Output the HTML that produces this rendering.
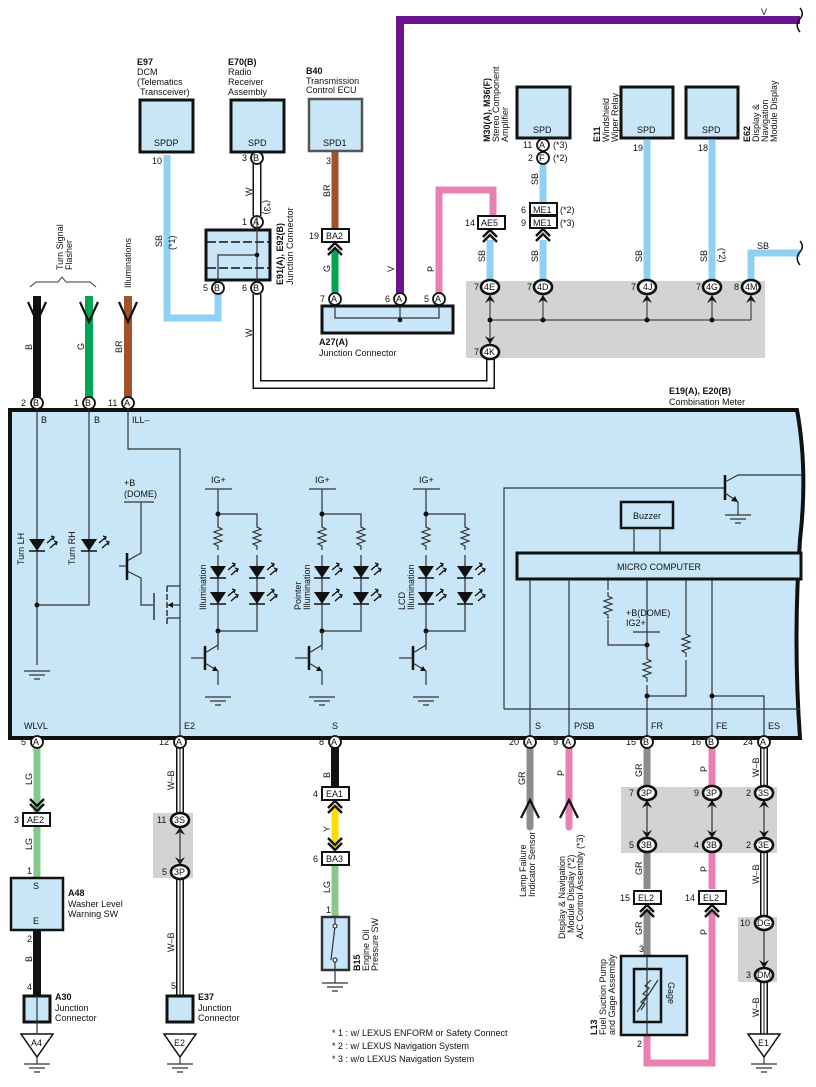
<!DOCTYPE html>
<html><head><meta charset="utf-8"><style>
html,body{margin:0;padding:0;background:#fff}
svg{display:block}
text{font-family:"Liberation Sans",Arial,sans-serif;font-size:9px;fill:#111}
.b{font-weight:bold}
.pin{fill:#fff;stroke:#111;stroke-width:1.8}
.ov{fill:#fff;stroke:#111;stroke-width:2.6}
.cb{fill:#fff;stroke:#111;stroke-width:2}
.ln{stroke:#333;stroke-width:1.2;fill:none}
.ch{stroke:#111;stroke-width:2.4;fill:none}
</style></head><body>
<svg width="816" height="1087" viewBox="0 0 816 1087" xmlns="http://www.w3.org/2000/svg">
<defs>
<g id="res"><path d="M0 0 l0 4 l4 2 l-8 3 l8 3 l-8 3 l8 3 l-8 3 l4 2 l0 4" class="ln"/></g>
<g id="led"><polygon points="-8,-6 8,-6 0,6" fill="#111"/><line x1="-8" y1="6" x2="8" y2="6" stroke="#111" stroke-width="1.5"/><path d="M10,-2 l7,-6 M13,3 l7,-6" stroke="#111" stroke-width="1.3"/><path d="M14,-9 l3,1 l-1,3 M17,-4 l3,1 l-1,3" stroke="#111" stroke-width="1.3" fill="none"/></g>
<g id="gnd"><path d="M-13 0 h26 M-8 4 h16 M-3 8 h6" stroke="#333" stroke-width="1.3"/></g>
<g id="npn"><line x1="0" y1="-12" x2="0" y2="12" stroke="#111" stroke-width="2.5"/><line x1="-14" y1="0" x2="0" y2="0" class="ln"/><path d="M0 -5 L13 -13 V-27 M0 5 L13 13 V27" class="ln"/><polygon points="13,13 7,13 10,8" fill="#111"/></g>
<g id="dch"><path d="M-7 8 L0 1 L7 8 M-7 13 L0 6 L7 13" class="ch"/></g>
<g id="uch"><path d="M-7 -8 L0 -1 L7 -8 M-7 -13 L0 -6 L7 -13" class="ch"/></g>
</defs>

<rect x="466" y="281" width="299" height="77" fill="#d3d3d3"/>
<rect x="153" y="813" width="40" height="65" fill="#d3d3d3"/>
<rect x="621" y="787" width="156" height="66" fill="#d3d3d3"/>
<rect x="738" y="917" width="39" height="65" fill="#d3d3d3"/>

<path d="M10 410 H797 Q808 470 800 540 Q793 640 800 738 H10 Z" fill="#c8e6f8" stroke="#111" stroke-width="4"/>

<path d="M400 296 V20 H800" stroke="#6a1490" stroke-width="8" fill="none"/>
<path d="M800 8 q5 6 -1 12 q-4 6 1 12" stroke="#111" stroke-width="1.5" fill="none"/>
<path d="M439 296 V190 H493 V216" stroke="#e880b4" stroke-width="7" fill="none"/>
<path d="M167 155 V318 H218 V290" stroke="#8fd0f5" stroke-width="7" fill="none"/>
<path d="M335 152 V228" stroke="#a0522d" stroke-width="7"/>
<path d="M335 250 V293" stroke="#00a651" stroke-width="7"/>
<path d="M257 163 V216" stroke="#111" stroke-width="9"/><path d="M257 163 V216" stroke="#fff" stroke-width="6"/>
<path d="M257 294 V384.5 H490.5 V358" stroke="#111" stroke-width="9" fill="none"/><path d="M257 294 V384.5 H490.5 V358" stroke="#fff" stroke-width="6" fill="none"/>
<path d="M490 240 V280" stroke="#8fd0f5" stroke-width="7"/>
<path d="M543 162 V202 M543 240 V280 M647 140 V280 M712 140 V280" stroke="#8fd0f5" stroke-width="7" fill="none"/>
<path d="M751 280 V253 H800" stroke="#8fd0f5" stroke-width="7" fill="none"/>
<path d="M800 241 q5 6 -1 12 q-4 6 1 12" stroke="#111" stroke-width="1.5" fill="none"/>
<path d="M37 296 V398" stroke="#111" stroke-width="8"/>
<path d="M89 296 V398" stroke="#00a651" stroke-width="8"/>
<path d="M128 296 V398" stroke="#a0522d" stroke-width="8"/>
<path d="M28 302 L37 322 L46 302 M80 302 L89 322 L98 302 M119 302 L128 322 L137 302" stroke="#111" stroke-width="2.2" fill="none"/>
<path d="M30 287 l6 -5 h22 l4 -5 l4 5 h24 l6 5" stroke="#333" stroke-width="1" fill="none"/>
<text transform="translate(63,270) rotate(-90)">Turn Signal</text>
<text transform="translate(72,270) rotate(-90)">Flasher</text>
<text transform="translate(131,288) rotate(-90)">Illuminations</text>
<text transform="translate(32,350) rotate(-90)">B</text>
<text transform="translate(84,350) rotate(-90)">G</text>
<text transform="translate(122,353) rotate(-90)">BR</text>

<rect x="140" y="100" width="53" height="52" fill="#c8e6f8" stroke="#111" stroke-width="3"/>
<text x="154" y="146">SPDP</text>
<text x="137" y="65" class="b">E97</text><text x="137" y="75">DCM</text><text x="137" y="85">(Telematics</text><text x="140" y="95">Transceiver)</text>
<text x="152" y="164">10</text>
<text transform="translate(162,247) rotate(-90)">SB</text><text transform="translate(175,250) rotate(-90)">(*1)</text>

<rect x="231" y="100" width="53" height="52" fill="#c8e6f8" stroke="#111" stroke-width="3"/>
<text x="248" y="146">SPD</text>
<text x="228" y="65" class="b">E70(B)</text><text x="228" y="75">Radio</text><text x="228" y="85">Receiver</text><text x="228" y="95">Assembly</text>
<circle cx="257" cy="158" r="6" class="pin"/><text x="253" y="161" font-size="8">B</text><text x="242" y="161">3</text>
<text transform="translate(252,196) rotate(-90)">W</text><text transform="translate(264,200) rotate(90)">(*3)</text>
<circle cx="257" cy="222" r="6" class="pin"/><text x="253" y="225" font-size="8">A</text><text x="242" y="225">1</text>
<rect x="206" y="230" width="64" height="50" fill="#c8e6f8" stroke="#111" stroke-width="3"/>
<path d="M207 242 H269 M207 268 H269" stroke="#111" stroke-width="1.5" stroke-dasharray="9 3"/>
<path d="M218 282 V255 H257 M257 216 V282" class="ln"/><circle cx="257" cy="255" r="2.3" fill="#111"/>
<circle cx="218" cy="288" r="6" class="pin"/><text x="214" y="291" font-size="8">B</text><text x="203" y="291">5</text>
<circle cx="257" cy="288" r="6" class="pin"/><text x="253" y="291" font-size="8">B</text><text x="242" y="291">6</text>
<text transform="translate(283,285) rotate(-90)" class="b">E91(A), E92(B)</text>
<text transform="translate(293,285) rotate(-90)">Junction Connector</text>
<text transform="translate(252,337) rotate(-90)">W</text>

<rect x="309" y="99" width="53" height="52" fill="#c8e6f8" stroke="#555" stroke-width="2.5"/>
<text x="323" y="146">SPD1</text>
<text x="306" y="74" class="b">B40</text><text x="306" y="84">Transmission</text><text x="306" y="93">Control ECU</text>
<text x="326" y="164">3</text>
<text transform="translate(330,197) rotate(-90)">BR</text>
<rect x="322" y="229" width="27" height="13" class="cb"/><text x="326" y="239">BA2</text><text x="309" y="239">19</text>
<use href="#dch" x="335" y="242"/>
<text transform="translate(330,272) rotate(-90)">G</text>
<text transform="translate(394,272) rotate(-90)">V</text>
<text transform="translate(434,272) rotate(-90)">P</text>
<rect x="322" y="306" width="131" height="27" fill="#c8e6f8" stroke="#111" stroke-width="3"/>
<path d="M335 306 V318 H439 V306 M400 306 V321" class="ln"/><circle cx="400" cy="320" r="2.3" fill="#111"/>
<circle cx="335" cy="299" r="6" class="pin"/><text x="331" y="302" font-size="8">A</text><text x="320" y="302">7</text>
<circle cx="400" cy="299" r="6" class="pin"/><text x="396" y="302" font-size="8">A</text><text x="385" y="302">6</text>
<circle cx="439" cy="299" r="6" class="pin"/><text x="435" y="302" font-size="8">A</text><text x="424" y="302">5</text>
<text x="319" y="345" class="b">A27(A)</text><text x="319" y="356">Junction Connector</text>
<text x="761" y="15">V</text>

<rect x="478" y="216" width="27" height="13" class="cb"/><text x="481" y="226">AE5</text><text x="465" y="226">14</text>
<use href="#dch" x="490" y="229"/>
<text transform="translate(485,262) rotate(-90)">SB</text>

<rect x="517" y="87" width="53" height="51" fill="#c8e6f8" stroke="#111" stroke-width="3"/><text x="533" y="133">SPD</text>
<text transform="translate(490,142) rotate(-90)" class="b">M30(A), M36(F)</text>
<text transform="translate(499,142) rotate(-90)">Stereo Component</text>
<text transform="translate(508,142) rotate(-90)">Amplifier</text>
<circle cx="543" cy="145" r="6" class="pin"/><text x="539" y="148" font-size="8">A</text><text x="523" y="148">11</text><text x="553" y="148">(*3)</text>
<circle cx="543" cy="158" r="6" class="pin"/><text x="539" y="161" font-size="8">F</text><text x="528" y="161">2</text><text x="553" y="161">(*2)</text>
<text transform="translate(538,185) rotate(-90)">SB</text>
<rect x="530" y="203" width="27" height="12" class="cb"/><text x="533" y="213">ME1</text><text x="521" y="213">6</text><text x="560" y="213">(*2)</text>
<rect x="530" y="216" width="27" height="12" class="cb"/><text x="533" y="226">ME1</text><text x="521" y="226">9</text><text x="560" y="226">(*3)</text>
<use href="#dch" x="543" y="228"/>
<text transform="translate(538,262) rotate(-90)">SB</text>

<rect x="621" y="87" width="52" height="51" fill="#c8e6f8" stroke="#111" stroke-width="3"/><text x="637" y="133">SPD</text>
<text transform="translate(600,142) rotate(-90)" class="b">E11</text>
<text transform="translate(609,142) rotate(-90)">Windshield</text>
<text transform="translate(618,142) rotate(-90)">Wiper Relay</text>
<text x="633" y="151">19</text>
<text transform="translate(642,262) rotate(-90)">SB</text>

<rect x="686" y="87" width="52" height="51" fill="#c8e6f8" stroke="#111" stroke-width="3"/><text x="702" y="133">SPD</text>
<text transform="translate(750,142) rotate(-90)" class="b">E62</text>
<text transform="translate(759,142) rotate(-90)">Display &amp;</text>
<text transform="translate(768,142) rotate(-90)">Navigation</text>
<text transform="translate(777,142) rotate(-90)">Module Display</text>
<text x="698" y="151">18</text>
<text transform="translate(707,262) rotate(-90)">SB</text><text transform="translate(719,248) rotate(90)">(*2)</text>
<text x="757" y="249">SB</text>

<path d="M490 293 V346 M490 320 H751 M543 293 V320 M647 293 V320 M712 293 V320 M751 293 V320" stroke="#444" stroke-width="1.2" fill="none"/>
<g fill="#111"><circle cx="490" cy="320" r="2.5"/><circle cx="543" cy="320" r="2.5"/><circle cx="647" cy="320" r="2.5"/><circle cx="712" cy="320" r="2.5"/>
<polygon points="485,303 490,295 495,303 490,300"/><polygon points="538,303 543,295 548,303 543,300"/><polygon points="642,303 647,295 652,303 647,300"/><polygon points="707,303 712,295 717,303 712,300"/><polygon points="746,303 751,295 756,303 751,300"/><polygon points="485,336 490,344 495,336 490,339"/></g>
<g font-size="8">
<ellipse cx="490" cy="287" rx="9" ry="7" class="ov"/><text x="484" y="290">4E</text><text x="474" y="290">7</text>
<ellipse cx="543" cy="287" rx="9" ry="7" class="ov"/><text x="537" y="290">4D</text><text x="527" y="290">7</text>
<ellipse cx="647" cy="287" rx="9" ry="7" class="ov"/><text x="643" y="290">4J</text><text x="631" y="290">7</text>
<ellipse cx="712" cy="287" rx="9" ry="7" class="ov"/><text x="706" y="290">4G</text><text x="696" y="290">7</text>
<ellipse cx="751" cy="287" rx="9" ry="7" class="ov"/><text x="745" y="290">4M</text><text x="734" y="290">8</text>
<ellipse cx="490" cy="352" rx="9" ry="7" class="ov"/><text x="484" y="355">4K</text><text x="474" y="355">7</text>
</g>

<text x="669" y="394" class="b">E19(A), E20(B)</text>
<text x="669" y="405">Combination Meter</text>

<circle cx="37" cy="403" r="6" class="pin"/><text x="33" y="406" font-size="8">B</text><text x="21" y="406">2</text>
<circle cx="89" cy="403" r="6" class="pin"/><text x="85" y="406" font-size="8">B</text><text x="74" y="406">1</text>
<circle cx="128" cy="403" r="6" class="pin"/><text x="124" y="406" font-size="8">A</text><text x="108" y="406">11</text>

<text x="41" y="423">B</text><text x="94" y="423">B</text><text x="132" y="423">ILL–</text>
<path d="M37 409 V665 M89 409 V605 H37 M128 409 V449 H180 V738" class="ln"/>
<circle cx="37" cy="605" r="2.5" fill="#111"/>
<use href="#led" x="37" y="545"/><use href="#led" x="89" y="545"/>
<use href="#gnd" x="37" y="671"/>
<text transform="translate(24,565) rotate(-90)">Turn LH</text>
<text transform="translate(75,565) rotate(-90)">Turn RH</text>
<text x="124" y="486">+B</text><text x="124" y="497">(DOME)</text>
<path d="M124 502 H154 M141 502 V553 L127 561" class="ln"/>
<path d="M127 571 L141 578 V605 H153" class="ln"/>
<line x1="127" y1="553" x2="127" y2="580" stroke="#111" stroke-width="2.5"/><line x1="119" y1="566" x2="127" y2="566" class="ln"/>
<line x1="154" y1="593" x2="154" y2="620" stroke="#333" stroke-width="1.5"/>
<path d="M167 586 V625" stroke="#333" stroke-width="1.5" stroke-dasharray="6 2"/>
<path d="M167 586 H180 M167 605 H180 M167 618 H180" class="ln"/>
<polygon points="168,605 173,602 173,608" fill="#111"/>

<g id="illum">
<path d="M205 489 H232 M218 489 V631 M218 514 H257 V631 H218 M218 631 V650" class="ln"/>
<rect x="212" y="525" width="12" height="30" fill="#c8e6f8"/><rect x="251" y="525" width="12" height="30" fill="#c8e6f8"/>
<use href="#res" x="218" y="523"/><use href="#res" x="257" y="523"/>
<circle cx="218" cy="514" r="2.5" fill="#111"/><circle cx="218" cy="631" r="2.5" fill="#111"/>
<use href="#led" x="218" y="572"/><use href="#led" x="257" y="572"/>
<use href="#led" x="218" y="598"/><use href="#led" x="257" y="598"/>
<use href="#npn" x="205" y="658"/>
<use href="#gnd" x="218" y="697"/>
<text x="211" y="483">IG+</text>
</g>
<use href="#illum" x="104" y="0"/>
<use href="#illum" x="208" y="0"/>
<text transform="translate(206,610) rotate(-90)">Illumination</text>
<text transform="translate(301,610) rotate(-90)">Pointer</text><text transform="translate(310,610) rotate(-90)">Illumination</text>
<text transform="translate(405,610) rotate(-90)">LCD</text><text transform="translate(414,610) rotate(-90)">Illumination</text>

<path d="M504 709 V488 H725 M504 709 H800" class="ln"/>
<line x1="725" y1="475" x2="725" y2="500" stroke="#111" stroke-width="2.5"/>
<path d="M725 482 L738 475 H802 M725 493 L738 502 V515" class="ln"/>
<polygon points="738,502 731,501 735,496" fill="#111"/>
<use href="#gnd" x="738" y="515"/>
<rect x="621" y="502" width="52" height="26" fill="#c8e6f8" stroke="#111" stroke-width="2.5"/>
<text x="633" y="519">Buzzer</text>
<path d="M634 528 V553 M660 528 V553" class="ln"/>
<rect x="517" y="553" width="284" height="26" fill="#c8e6f8" stroke="#111" stroke-width="3"/>
<text x="617" y="570">MICRO COMPUTER</text>
<path d="M530 580 V738 M569 580 V738 M647 580 V738 M712 580 V738 M608 580 V645 H647 M686 580 V696 H647 M712 696 H764 V738 M633 632 H660" class="ln"/>
<rect x="602" y="590" width="12" height="30" fill="#c8e6f8"/><use href="#res" x="608" y="592"/>
<rect x="680" y="630" width="12" height="30" fill="#c8e6f8"/><use href="#res" x="686" y="630"/>
<rect x="641" y="655" width="12" height="30" fill="#c8e6f8"/><use href="#res" x="647" y="655"/>
<circle cx="647" cy="645" r="2.5" fill="#111"/><circle cx="647" cy="696" r="2.5" fill="#111"/><circle cx="712" cy="696" r="2.5" fill="#111"/>
<text x="626" y="616">+B(DOME)</text><text x="626" y="626">IG2+</text>

<text x="24" y="729">WLVL</text><text x="184" y="729">E2</text><text x="332" y="729">S</text>
<text x="535" y="729">S</text><text x="574" y="729">P/SB</text><text x="651" y="729">FR</text><text x="716" y="729">FE</text><text x="768" y="729">ES</text>

<path d="M37 748 V812 M37 826 V878" stroke="#88c88f" stroke-width="7"/>
<path d="M37 930 V995" stroke="#111" stroke-width="8"/>
<g>
<path d="M180 748 V813 M180 878 V995 M764 748 V786 M764 852 V916 M764 982 V1035" stroke="#111" stroke-width="8"/>
<path d="M180 748 V813 M180 878 V995 M764 748 V786 M764 852 V916 M764 982 V1035" stroke="#fff" stroke-width="5"/>
<path d="M180 748 V813 M180 878 V995 M764 748 V786 M764 852 V916 M764 982 V1035" stroke="#111" stroke-width="1"/>
</g>
<path d="M335 748 V786" stroke="#111" stroke-width="8"/>
<path d="M335 806 V849" stroke="#ffdd00" stroke-width="7"/>
<path d="M335 866 V916" stroke="#88c88f" stroke-width="7"/>
<path d="M530 748 V827" stroke="#8c8c8c" stroke-width="7" stroke-linecap="round"/>
<path d="M569 748 V827" stroke="#e880b4" stroke-width="7" stroke-linecap="round"/>
<path d="M521 818 L530 800 L539 818 M560 818 L569 800 L578 818" stroke="#111" stroke-width="2.2" fill="none"/>
<path d="M647 748 V786 M647 852 V889 M647 910 V955" stroke="#8c8c8c" stroke-width="7"/>
<path d="M647 1035 V1063 H712 V910 M712 748 V786 M712 852 V889" stroke="#e880b4" stroke-width="7" fill="none"/>
<path d="M647 800 V838 M712 800 V838 M764 800 V838 M764 930 V968" stroke="#333" stroke-width="1.2"/>
<g fill="#111">
<polygon points="642,808 647,800 652,808 647,805"/><polygon points="642,830 647,838 652,830 647,833"/>
<polygon points="707,808 712,800 717,808 712,805"/><polygon points="707,830 712,838 717,830 712,833"/>
<polygon points="759,808 764,800 769,808 764,805"/><polygon points="759,830 764,838 769,830 764,833"/>
<polygon points="759,930 764,922 769,930 764,927"/><polygon points="759,960 764,968 769,960 764,963"/>
<polygon points="175,835 180,827 185,835 180,832"/><polygon points="175,857 180,865 185,857 180,860"/>
</g>
<path d="M180 828 V864" stroke="#333" stroke-width="1.2"/>

<g font-size="8">
<circle cx="37" cy="742" r="6" class="pin"/><text x="33" y="745">A</text><text x="21" y="745" font-size="9">5</text>
<circle cx="180" cy="742" r="6" class="pin"/><text x="176" y="745">A</text><text x="159" y="745" font-size="9">12</text>
<circle cx="335" cy="742" r="6" class="pin"/><text x="331" y="745">A</text><text x="319" y="745" font-size="9">8</text>
<circle cx="530" cy="742" r="6" class="pin"/><text x="526" y="745">A</text><text x="509" y="745" font-size="9">20</text>
<circle cx="569" cy="742" r="6" class="pin"/><text x="565" y="745">A</text><text x="553" y="745" font-size="9">9</text>
<circle cx="647" cy="742" r="6" class="pin"/><text x="643" y="745">B</text><text x="626" y="745" font-size="9">15</text>
<circle cx="712" cy="742" r="6" class="pin"/><text x="708" y="745">B</text><text x="691" y="745" font-size="9">16</text>
<circle cx="764" cy="742" r="6" class="pin"/><text x="760" y="745">A</text><text x="743" y="745" font-size="9">24</text>
<ellipse cx="180" cy="820" rx="9" ry="7" class="ov"/><text x="174" y="823">3S</text><text x="157" y="823" font-size="9">11</text>
<ellipse cx="180" cy="872" rx="9" ry="7" class="ov"/><text x="174" y="875">3P</text><text x="162" y="875" font-size="9">5</text>
<ellipse cx="647" cy="793" rx="9" ry="7" class="ov"/><text x="641" y="796">3P</text><text x="629" y="796" font-size="9">7</text>
<ellipse cx="647" cy="845" rx="9" ry="7" class="ov"/><text x="641" y="848">3B</text><text x="629" y="848" font-size="9">5</text>
<ellipse cx="712" cy="793" rx="9" ry="7" class="ov"/><text x="706" y="796">3P</text><text x="694" y="796" font-size="9">9</text>
<ellipse cx="712" cy="845" rx="9" ry="7" class="ov"/><text x="706" y="848">3B</text><text x="694" y="848" font-size="9">4</text>
<ellipse cx="764" cy="793" rx="9" ry="7" class="ov"/><text x="758" y="796">3S</text><text x="746" y="796" font-size="9">2</text>
<ellipse cx="764" cy="845" rx="9" ry="7" class="ov"/><text x="758" y="848">3E</text><text x="746" y="848" font-size="9">2</text>
<ellipse cx="764" cy="923" rx="9" ry="7" class="ov"/><text x="757" y="926">DG</text><text x="740" y="926" font-size="9">10</text>
<ellipse cx="764" cy="975" rx="9" ry="7" class="ov"/><text x="757" y="978">DM</text><text x="746" y="978" font-size="9">3</text>
</g>

<text transform="translate(32,785) rotate(-90)">LG</text>
<use href="#uch" x="37" y="812"/>
<rect x="23" y="813" width="27" height="13" class="cb"/><text x="27" y="823">AE2</text><text x="14" y="823">3</text>
<text transform="translate(32,850) rotate(-90)">LG</text><text x="27" y="874">1</text>
<rect x="11" y="878" width="52" height="52" fill="#c8e6f8" stroke="#111" stroke-width="2.5"/>
<text x="33" y="889">S</text><text x="33" y="924">E</text>
<text x="68" y="896" class="b">A48</text><text x="68" y="907">Washer Level</text><text x="68" y="917">Warning SW</text>
<text x="27" y="942">2</text><text transform="translate(32,962) rotate(-90)">B</text><text x="27" y="990">4</text>
<rect x="24" y="996" width="26" height="26" fill="#c8e6f8" stroke="#111" stroke-width="3"/>
<path d="M37 996 V1033" class="ln"/>
<text x="55" y="1000" class="b">A30</text><text x="55" y="1011">Junction</text><text x="55" y="1021">Connector</text>
<polygon points="21,1034 53,1034 37,1057" fill="#fff" stroke="#111" stroke-width="1.5"/><text x="31" y="1046">A4</text>
<path d="M37 1057 V1064" class="ln"/><use href="#gnd" x="37" y="1064"/>

<text transform="translate(174,790) rotate(-90)">W–B</text>
<text transform="translate(174,952) rotate(-90)">W–B</text><text x="171" y="989">5</text>
<rect x="167" y="996" width="26" height="26" fill="#c8e6f8" stroke="#111" stroke-width="3"/>
<text x="198" y="1000" class="b">E37</text><text x="198" y="1011">Junction</text><text x="198" y="1021">Connector</text>
<polygon points="164,1034 196,1034 180,1057" fill="#fff" stroke="#111" stroke-width="1.5"/><text x="174" y="1046">E2</text>
<path d="M180 1057 V1064" class="ln"/><use href="#gnd" x="180" y="1064"/>

<text transform="translate(330,778) rotate(-90)">B</text>
<rect x="322" y="787" width="27" height="13" class="cb"/><text x="326" y="797">EA1</text><text x="313" y="797">4</text>
<use href="#dch" x="335" y="800"/>
<text transform="translate(330,832) rotate(-90)">Y</text>
<use href="#uch" x="335" y="851"/>
<rect x="322" y="852" width="27" height="13" class="cb"/><text x="326" y="862">BA3</text><text x="313" y="862">6</text>
<text transform="translate(330,893) rotate(-90)">LG</text><text x="326" y="913">1</text>
<rect x="322" y="917" width="27" height="53" fill="#c8e6f8" stroke="#333" stroke-width="2.5"/>
<path d="M335 917 V925 M335 961 V983 M335 926 L331 960" class="ln"/>
<circle cx="335" cy="926" r="2" fill="#fff" stroke="#111"/><circle cx="335" cy="960" r="2" fill="#fff" stroke="#111"/>
<use href="#gnd" x="335" y="983"/>
<text transform="translate(360,971) rotate(-90)" class="b">B15</text>
<text transform="translate(369,971) rotate(-90)">Engine Oil</text><text transform="translate(378,971) rotate(-90)">Pressure SW</text>

<text transform="translate(525,785) rotate(-90)">GR</text>
<text transform="translate(564,776) rotate(-90)">P</text>
<text transform="translate(526,897) rotate(-90)">Lamp Failure</text>
<text transform="translate(535,897) rotate(-90)">Indicator Sensor</text>
<text transform="translate(565,939) rotate(-90)">Display &amp; Navigation</text>
<text transform="translate(574,933) rotate(-90)">Module Display (*2)</text>
<text transform="translate(583,939) rotate(-90)">A/C Control Assembly (*3)</text>

<text transform="translate(642,777) rotate(-90)">GR</text>
<text transform="translate(707,772) rotate(-90)">P</text>
<text transform="translate(642,875) rotate(-90)">GR</text>
<text transform="translate(707,872) rotate(-90)">P</text>
<rect x="634" y="891" width="27" height="13" class="cb"/><text x="638" y="901">EL2</text><text x="620" y="901">15</text>
<rect x="699" y="891" width="27" height="13" class="cb"/><text x="703" y="901">EL2</text><text x="685" y="901">14</text>
<use href="#dch" x="647" y="904"/><use href="#dch" x="712" y="904"/>
<text transform="translate(642,935) rotate(-90)">GR</text>
<text transform="translate(707,935) rotate(-90)">P</text>
<text x="639" y="952">3</text>
<rect x="621" y="956" width="66" height="79" fill="#c8e6f8" stroke="#111" stroke-width="2.5"/>
<rect x="634" y="969" width="27" height="53" fill="none" stroke="#111" stroke-width="2.5"/>
<path d="M647 956 V1035" class="ln"/>
<path d="M637 1012 L658 980 M641 1010 l4 -6 l-4 -2 l6 -6 l-4 -2 l6 -6 l-4 -2 l6 -6" class="ln"/>
<text transform="translate(668,982) rotate(90)">Gage</text>
<text x="637" y="1047">2</text>
<text transform="translate(597,1035) rotate(-90)" class="b">L13</text>
<text transform="translate(606,1035) rotate(-90)">Fuel Suction Pump</text>
<text transform="translate(615,1035) rotate(-90)">and Gage Assembly</text>

<text transform="translate(759,777) rotate(-90)">W–B</text>
<text transform="translate(759,884) rotate(-90)">W–B</text>
<text transform="translate(759,1017) rotate(-90)">W–B</text>
<polygon points="748,1034 780,1034 764,1057" fill="#fff" stroke="#111" stroke-width="1.5"/><text x="758" y="1046">E1</text>
<path d="M764 1057 V1064" class="ln"/><use href="#gnd" x="764" y="1064"/>

<text x="332" y="1036">* 1 : w/ LEXUS ENFORM or Safety Connect</text>
<text x="332" y="1049">* 2 : w/ LEXUS Navigation System</text>
<text x="332" y="1062">* 3 : w/o LEXUS Navigation System</text>
</svg>
</body></html>
